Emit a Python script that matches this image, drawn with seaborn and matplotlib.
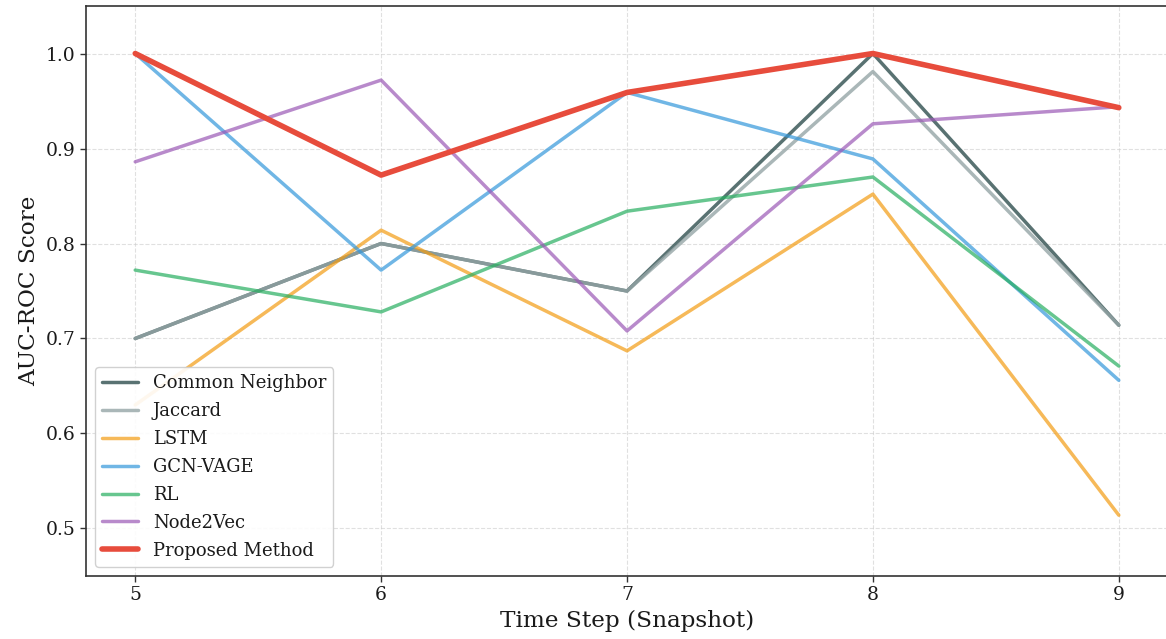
import matplotlib
matplotlib.use("Agg")
import matplotlib.pyplot as plt
import seaborn as sns
import pandas as pd

time_steps = [5, 6, 7, 8, 9]
common_neighbor = [0.700, 0.800, 0.750, 1.000, 0.714]
jaccard = [0.700, 0.800, 0.750, 0.981, 0.714]
lstm = [0.630, 0.814, 0.687, 0.852, 0.514]
gcn_vage = [1.000, 0.772, 0.959, 0.889, 0.656]
rl = [0.772, 0.728, 0.834, 0.870, 0.671]
node2vec = [0.886, 0.972, 0.708, 0.926, 0.944]
proposed = [1.000, 0.872, 0.959, 1.000, 0.943]

series_names = ["Common Neighbor", "Jaccard", "LSTM", "GCN-VAGE", "RL", "Node2Vec", "Proposed Method"]
series_values = [common_neighbor, jaccard, lstm, gcn_vage, rl, node2vec, proposed]
colors = ["#2F4F4F", "#95a5a6", "#f39c12", "#3498db", "#27ae60", "#9b59b6", "#e74c3c"]
alphas = [0.8, 0.8, 0.7, 0.7, 0.7, 0.7, 1.0]
widths = [2.5, 2.5, 2.5, 2.5, 2.5, 2.5, 4.0]

sns.set_style("white")
plt.rcParams['font.family'] = ['DejaVu Serif']
plt.rcParams['text.color'] = '#1a1a1a'
plt.rcParams['axes.labelcolor'] = '#1a1a1a'
plt.rcParams['xtick.color'] = '#1a1a1a'
plt.rcParams['ytick.color'] = '#1a1a1a'

fig, ax = plt.subplots(figsize=(11.66, 6.39), dpi=100)
fig.subplots_adjust(left=0.0738, right=1.0017, top=0.9906, bottom=0.0986)

for name, vals, c, a, w in zip(series_names, series_values, colors, alphas, widths):
    df = pd.DataFrame({"t": time_steps, "v": vals})
    sns.lineplot(data=df, x="t", y="v", ax=ax, color=c, alpha=a, linewidth=w, label=name)

ax.set_xlim(4.8, 9.2)
ax.set_ylim(0.45, 1.05)
ax.set_xticks(time_steps)
ax.set_yticks([0.5, 0.6, 0.7, 0.8, 0.9, 1.0])
ax.tick_params(labelsize=13.5, length=4, width=1.0, color="#333333", left=True, bottom=True)
ax.set_xlabel("Time Step (Snapshot)", fontsize=16.7)
ax.set_ylabel("AUC-ROC Score", fontsize=16.7)
ax.grid(True, linestyle="--", color="#cccccc", alpha=0.6, linewidth=0.8)
for s in ax.spines.values():
    s.set_color("#333333")
    s.set_linewidth(1.2)

ax.legend(loc="lower left", fontsize=13, frameon=True, framealpha=0.9, edgecolor="#cccccc",
          fancybox=True, labelspacing=0.55)

fig.savefig("out.png", dpi=100)
